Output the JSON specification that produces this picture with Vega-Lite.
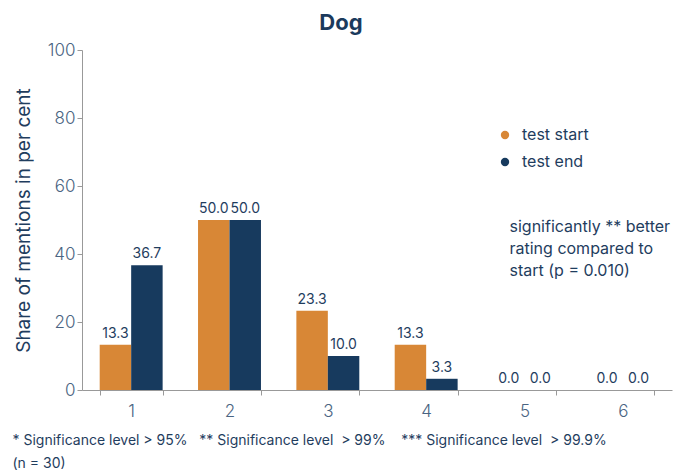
{
  "$schema": "https://vega.github.io/schema/vega-lite/v6.json",
  "width": 590,
  "height": 340,
  "autosize": "none",
  "padding": {"left": 82, "top": 50, "right": 2, "bottom": 81},
  "config": {
    "font": "Inter",
    "view": {"stroke": null}
  },
  "title": {
    "text": "Dog",
    "fontSize": 22,
    "fontWeight": "bold",
    "color": "#1b3a5c",
    "anchor": "middle",
    "dx": -36,
    "offset": 6
  },
  "data": {
    "values": [
      {"rating": "1", "series": "test start", "value": 13.3},
      {"rating": "1", "series": "test end", "value": 36.7},
      {"rating": "2", "series": "test start", "value": 50.0},
      {"rating": "2", "series": "test end", "value": 50.0},
      {"rating": "3", "series": "test start", "value": 23.3},
      {"rating": "3", "series": "test end", "value": 10.0},
      {"rating": "4", "series": "test start", "value": 13.3},
      {"rating": "4", "series": "test end", "value": 3.3},
      {"rating": "5", "series": "test start", "value": 0.0},
      {"rating": "5", "series": "test end", "value": 0.0},
      {"rating": "6", "series": "test start", "value": 0.0},
      {"rating": "6", "series": "test end", "value": 0.0}
    ]
  },
  "encoding": {
    "x": {
      "field": "rating",
      "type": "nominal",
      "scale": {"paddingInner": 0.36, "paddingOuter": 0.18},
      "axis": {
        "labelAngle": 0,
        "labelFontSize": 17,
        "labelFontWeight": 300,
        "labelColor": "#4a6482",
        "labelPadding": 8,
        "tickBand": "extent",
        "tickColor": "#999999",
        "tickSize": 5,
        "domainColor": "#999999",
        "title": ["* Significance level > 95%\u00a0\u00a0\u00a0** Significance level\u00a0\u00a0> 99%\u00a0\u00a0\u00a0\u00a0*** Significance level\u00a0\u00a0> 99.9%", "(n = 30)"],
        "titleFontSize": 14,
        "titleFontWeight": "normal",
        "titleColor": "#1f3d5e",
        "titleAlign": "left",
        "titleAnchor": "start",
        "titleX": -70,
        "titleY": 43,
        "titleLineHeight": 23
      }
    },
    "xOffset": {"field": "series", "sort": ["test start", "test end"]},
    "y": {
      "field": "value",
      "type": "quantitative",
      "scale": {"domain": [0, 100]},
      "axis": {
        "values": [0, 20, 40, 60, 80, 100],
        "grid": false,
        "labelFontSize": 17,
        "labelFontWeight": 300,
        "labelColor": "#4a6482",
        "tickColor": "#999999",
        "tickSize": 5,
        "domainColor": "#999999",
        "title": "Share of mentions in per cent",
        "titleFontSize": 19,
        "titleFontWeight": "normal",
        "titleColor": "#1f3d5e",
        "titlePadding": 14
      }
    }
  },
  "layer": [
    {
      "mark": {"type": "bar"},
      "encoding": {
        "color": {
          "field": "series",
          "type": "nominal",
          "sort": ["test start", "test end"],
          "scale": {"domain": ["test start", "test end"], "range": ["#d88736", "#173a5e"]},
          "legend": {
            "title": null,
            "orient": "none",
            "legendX": 415,
            "legendY": 77,
            "symbolType": "circle",
            "symbolSize": 70,
            "labelFontSize": 16,
            "labelColor": "#1f3d5e",
            "rowPadding": 11,
            "labelOffset": 9
          }
        }
      }
    },
    {
      "mark": {"type": "text", "dy": -11, "fontSize": 14, "color": "#1f3d5e"},
      "encoding": {
        "text": {"field": "value", "type": "quantitative", "format": ".1f"}
      }
    },
    {
      "data": {"values": [{"rating": "5", "y": 47.8}]},
      "mark": {
        "type": "text",
        "align": "left",
        "baseline": "middle",
        "dx": -15,
        "fontSize": 16,
        "lineHeight": 22,
        "color": "#1f3d5e",
        "text": ["significantly ** better", "rating compared to", "start (p = 0.010)"]
      },
      "encoding": {
        "x": {"field": "rating", "type": "nominal"},
        "y": {"field": "y", "type": "quantitative"},
        "xOffset": null
      }
    }
  ]
}
